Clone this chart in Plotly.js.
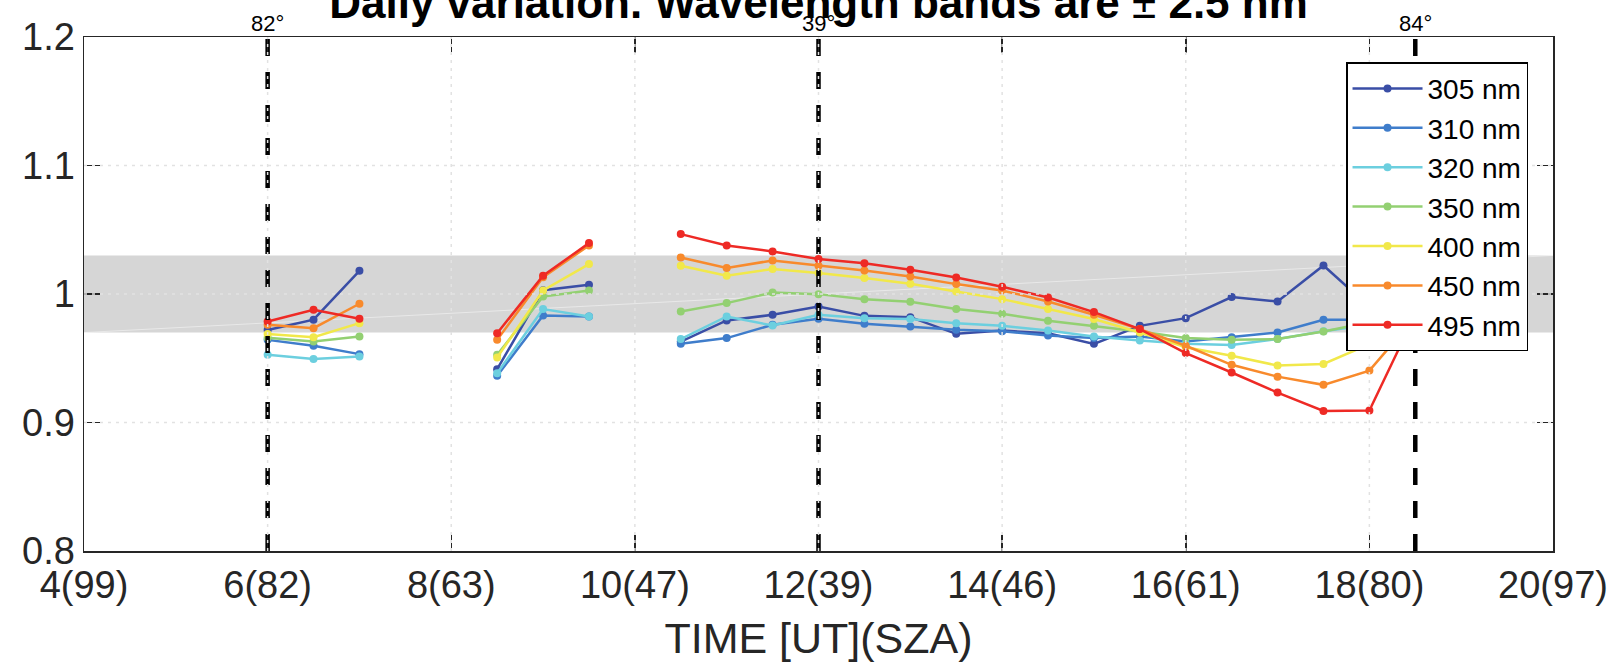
<!DOCTYPE html>
<html>
<head>
<meta charset="utf-8">
<script src="https://cdn.plot.ly/plotly-3.0.1.min.js"></script>
<style>html,body{margin:0;padding:0;background:#fff;}#chart{width:1617px;height:665px;}</style>
</head>
<body>
<div id="chart"></div>
<script>
// Measurement times [UT]; null separates the three measurement blocks
const times = [6, 6.5, 7, null, 8.5, 9, 9.5, null,
  10.5, 11, 11.5, 12, 12.5, 13, 13.5, 14, 14.5, 15, 15.5, 16, 16.5, 17, 17.5, 18, 18.5];

const wavelengths = ['305 nm', '310 nm', '320 nm', '350 nm', '400 nm', '450 nm', '495 nm'];
const colors = ['#3a4ea6', '#3f7dcb', '#6ccfdf', '#93d072', '#f1e84a', '#f88a2c', '#ee2a25'];

const v305 = [0.972, 0.980, 1.018, null, 0.9415, 1.003, 1.0072, null,
  0.963, 0.9794, 0.9838, 0.9903, 0.983, 0.982, 0.969, 0.9715, 0.9695, 0.9612, 0.9752, 0.9812, 0.9976, 0.9942, 1.0222, 0.99, 0.99];
const v310 = [0.9643, 0.9597, 0.9532, null, 0.9363, 0.9833, 0.9825, null,
  0.9612, 0.9657, 0.976, 0.9807, 0.9768, 0.9747, 0.9721, 0.971, 0.9677, 0.9657, 0.967, 0.963, 0.9664, 0.970, 0.9799, 0.980, 0.985];
const v320 = [0.9527, 0.9495, 0.9513, null, 0.9384, 0.9883, 0.9825, null,
  0.9649, 0.9825, 0.9755, 0.9838, 0.9812, 0.9805, 0.9773, 0.9752, 0.9716, 0.9669, 0.9638, 0.9612, 0.9604, 0.9649, 0.971, 0.976, 0.98];
const v350 = [0.966, 0.963, 0.9669, null, 0.9527, 0.998, 1.0027, null,
  0.9864, 0.9929, 1.0012, 0.9999, 0.996, 0.9939, 0.9883, 0.9846, 0.9791, 0.9752, 0.9708, 0.9657, 0.9643, 0.9649, 0.9708, 0.978, 0.985];
const v400 = [0.9688, 0.9664, 0.9773, null, 0.9506, 1.0027, 1.0233, null,
  1.022, 1.0142, 1.0194, 1.0163, 1.0124, 1.0079, 1.002, 0.996, 0.9883, 0.9805, 0.970, 0.9586, 0.9519, 0.9443, 0.9456, 0.961, 0.985];
const v450 = [0.976, 0.9734, 0.9924, null, 0.9643, 1.013, 1.0378, null,
  1.0284, 1.0202, 1.0261, 1.022, 1.0183, 1.0136, 1.0077, 1.0027, 0.9942, 0.9838, 0.9727, 0.9597, 0.9449, 0.9357, 0.9293, 0.9404, 0.982];
const v495 = [0.9786, 0.9877, 0.9807, null, 0.9695, 1.0142, 1.0396, null,
  1.0466, 1.0378, 1.0331, 1.0272, 1.024, 1.0188, 1.0129, 1.0056, 0.9973, 0.9859, 0.9727, 0.954, 0.9389, 0.9233, 0.909, 0.9093, 0.984];
const seriesValues = [v305, v310, v320, v350, v400, v450, v495];

// Solar zenith angle markers
const szaTimes = [6, 12, 18.5];
const szaLabels = ['82°', '39°', '84°'];

// Axis ticks
const xTickVals = [4, 6, 8, 10, 12, 14, 16, 18, 20];
const xTickText = ['4(99)', '6(82)', '8(63)', '10(47)', '12(39)', '14(46)', '16(61)', '18(80)', '20(97)'];
const yTickVals = [0.8, 0.9, 1.0, 1.1, 1.2];
const yTickText = ['0.8', '0.9', '1', '1.1', '1.2'];

// Tolerance band
const band = [0.97, 1.03];

const FONT = 'Liberation Sans, Arial, Helvetica, sans-serif';
const TXT = '#262626';

const traces = [];
wavelengths.forEach((name, i) => {
  traces.push({
    type: 'scatter', mode: 'lines+markers', name: name,
    x: times, y: seriesValues[i], connectgaps: false,
    line: {color: colors[i], width: 2.5},
    marker: {color: colors[i], size: 8}
  });
});
szaTimes.forEach(t => {
  traces.push({
    type: 'scatter', mode: 'lines', showlegend: false, hoverinfo: 'skip',
    x: [t, t], y: [yTickVals[0], yTickVals[yTickVals.length - 1]],
    line: {color: '#000', width: 4.5, dash: '17px,16px'}
  });
});

const xr = [xTickVals[0], xTickVals[xTickVals.length - 1]];
const yr = [yTickVals[0], yTickVals[yTickVals.length - 1]];

const shapes = [
  {type: 'rect', xref: 'x', yref: 'y', x0: xr[0], x1: xr[1], y0: band[0], y1: band[1],
   fillcolor: '#d6d6d6', line: {width: 0}, layer: 'below'},
  {type: 'line', xref: 'x', yref: 'y', x0: xr[0], x1: xr[1], y0: band[0], y1: band[1],
   line: {color: 'rgba(255,255,255,0.45)', width: 1}, layer: 'below'}
];
// grid drawn on top (as in the original)
xTickVals.slice(1, -1).forEach(v => shapes.push({
  type: 'line', xref: 'x', yref: 'paper', x0: v, x1: v, y0: 0, y1: 1,
  line: {color: '#e2e2e2', width: 1.5, dash: '3px,5px'}, layer: 'above'}));
yTickVals.slice(1, -1).forEach(v => shapes.push({
  type: 'line', xref: 'paper', yref: 'y', x0: 0, x1: 1, y0: v, y1: v,
  line: {color: '#e2e2e2', width: 1.5, dash: '3px,5px'}, layer: 'above'}));

const annotations = szaTimes.map((t, i) => ({
  x: t, xref: 'x', y: 1, yref: 'paper', yanchor: 'bottom', xanchor: 'center',
  text: szaLabels[i], showarrow: false, yshift: -1,
  font: {family: FONT, size: 22, color: '#000'}
}));

const axisCommon = {
  showline: true, linecolor: TXT, linewidth: 1.5, mirror: 'ticks',
  ticks: 'inside', ticklen: 16, tickwidth: 1.5, tickcolor: TXT,
  showgrid: false, zeroline: false,
  tickfont: {family: FONT, size: 38, color: TXT}
};

const layout = {
  width: 1617, height: 665,
  margin: {l: 84, r: 64, t: 37, b: 114},
  paper_bgcolor: '#fff', plot_bgcolor: '#fff',
  showlegend: true,
  title: {text: '<b>Daily variation. Wavelength bands are</b> ± <b>2.5 nm</b>',
          font: {family: FONT, size: 44, color: '#000'},
          x: 0.5, xref: 'paper', xanchor: 'center',
          y: 1 - 18 / 665, yref: 'container', yanchor: 'bottom'},
  xaxis: Object.assign({}, axisCommon, {
    range: xr, tickvals: xTickVals, ticktext: xTickText,
    title: {text: 'TIME [UT](SZA)', font: {family: FONT, size: 43, color: TXT}, standoff: 18}
  }),
  yaxis: Object.assign({}, axisCommon, {
    range: yr, tickvals: yTickVals, ticktext: yTickText
  }),
  legend: {
    x: 0.983, xanchor: 'right', y: 0.951, yanchor: 'top',
    bgcolor: '#fff', bordercolor: '#000', borderwidth: 1.5,
    font: {family: FONT, size: 28, color: '#000'},
    itemwidth: 70, tracegroupgap: 0
  },
  shapes: shapes,
  annotations: annotations
};

Plotly.newPlot('chart', traces, layout, {displayModeBar: false, staticPlot: true});
</script>
</body>
</html>
